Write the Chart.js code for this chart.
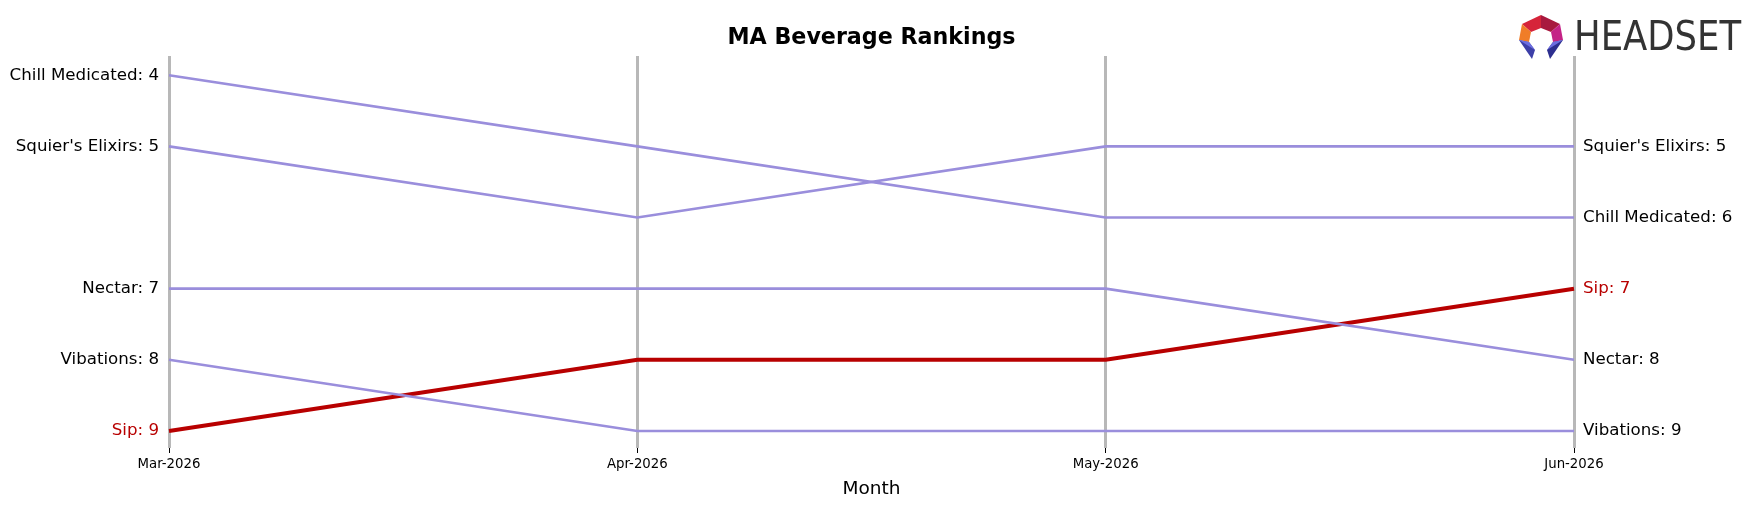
<!DOCTYPE html>
<html>
<head>
<meta charset="utf-8">
<script src="https://cdn.jsdelivr.net/npm/chart.js@4"></script>
<style>
  html, body { margin: 0; padding: 0; background: #fff; }
  #wrap { width: 1755px; height: 507px; }
</style>
</head>
<body>
<div id="wrap"><canvas id="myChart" width="1755" height="507"></canvas></div>
<script>
// ranking data, one array per brand
const months = ["Mar-2026", "Apr-2026", "May-2026", "Jun-2026"];
const chillMedicated = [4, 5, 6, 6];
const squiersElixirs = [5, 6, 5, 5];
const nectar = [7, 7, 7, 8];
const vibations = [8, 9, 9, 9];
const sip = [9, 8, 8, 7];

const purple = "#9a8edc";
const red = "#b80000";
const font = "'DejaVu Sans', sans-serif";

// draw "Name: rank" at both ends of every line
const endLabels = {
  id: "endLabels",
  afterDatasetsDraw(chart) {
    const ctx = chart.ctx;
    ctx.save();
    ctx.font = "16.67px " + font;
    ctx.textBaseline = "middle";
    chart.data.datasets.forEach((ds, i) => {
      const meta = chart.getDatasetMeta(i);
      const first = meta.data[0];
      const last = meta.data[meta.data.length - 1];
      ctx.fillStyle = ds.label === "Sip" ? red : "#000";
      ctx.textAlign = "right";
      ctx.fillText(ds.label + ": " + ds.data[0], first.x - 10, first.y);
      ctx.textAlign = "left";
      ctx.fillText(ds.label + ": " + ds.data[ds.data.length - 1], last.x + 9, last.y);
    });
    ctx.restore();
  }
};

// headset logo in the top right corner
const logo = {
  id: "logo",
  afterDraw(chart) {
    const ctx = chart.ctx;
    ctx.save();
    const poly = (pts, col) => {
      ctx.beginPath();
      ctx.moveTo(pts[0][0], pts[0][1]);
      pts.slice(1).forEach(p => ctx.lineTo(p[0], p[1]));
      ctx.closePath();
      ctx.fillStyle = col;
      ctx.fill();
    };
    poly([[1522, 24], [1541, 15], [1541, 28], [1531, 32]], "#d6243a");
    poly([[1541, 15], [1560, 24], [1551, 32], [1541, 28]], "#a8193e");
    poly([[1522, 24], [1531, 32], [1529, 42], [1519, 40]], "#f07d28");
    poly([[1560, 24], [1563, 40], [1553, 42], [1551, 32]], "#c42286");
    poly([[1519, 40], [1529, 42], [1535, 50], [1532, 59]], "#3d3fa8");
    poly([[1519, 40], [1529, 42], [1535, 50]], "#6d6ee0");
    poly([[1563, 40], [1550, 59], [1547, 50], [1553, 42]], "#2d2f8f");
    poly([[1563, 40], [1547, 50], [1553, 42]], "#6d6ee0");
    ctx.fillStyle = "#333333";
    ctx.font = "40px 'Liberation Sans Narrow', 'DejaVu Sans Condensed', sans-serif";
    ctx.textBaseline = "alphabetic";
    ctx.textAlign = "left";
    const w = ctx.measureText("HEADSET").width;
    ctx.translate(1574, 50);
    ctx.scale(167 / w, 1);
    ctx.fillText("HEADSET", 0, 0);
    ctx.restore();
  }
};

function line(label, data, color, width) {
  return {
    label: label,
    data: data,
    borderColor: color,
    borderWidth: width,
    pointRadius: 0,
    tension: 0,
    fill: false
  };
}

let ctx = document.getElementById("myChart").getContext("2d");
let myChart = new Chart(ctx, {
  type: "line",
  data: {
    labels: months,
    datasets: [
      line("Chill Medicated", chillMedicated, purple, 2.6),
      line("Squier's Elixirs", squiersElixirs, purple, 2.6),
      line("Nectar", nectar, purple, 2.6),
      line("Vibations", vibations, purple, 2.6),
      line("Sip", sip, red, 4)
    ]
  },
  options: {
    responsive: false,
    animation: false,
    layout: { padding: { left: 169, right: 181, top: 0, bottom: 0 } },
    plugins: {
      legend: { display: false },
      tooltip: { enabled: false },
      title: {
        display: true,
        text: "MA Beverage Rankings",
        color: "#000",
        font: { family: font, size: 22.2, weight: "bold" },
        padding: { top: 24.7, bottom: 4.7 }
      }
    },
    scales: {
      x: {
        type: "category",
        offset: false,
        border: { display: false },
        grid: {
          color: "#b8b8b8",
          lineWidth: 3,
          drawTicks: true,
          tickColor: "#000",
          tickWidth: 1,
          tickLength: 5
        },
        ticks: {
          color: "#000",
          font: { family: font, size: 13.3 },
          padding: 4,
          maxRotation: 0,
          autoSkip: false
        },
        title: {
          display: true,
          text: "Month",
          color: "#000",
          font: { family: font, size: 18.5 },
          padding: { top: 5.2, bottom: 6.8 }
        },
        afterFit(scale) { scale.height = 59; }
      },
      y: {
        display: false,
        reverse: true,
        min: 3.73,
        max: 9.24
      }
    }
  },
  plugins: [endLabels, logo]
});
</script>
</body>
</html>
